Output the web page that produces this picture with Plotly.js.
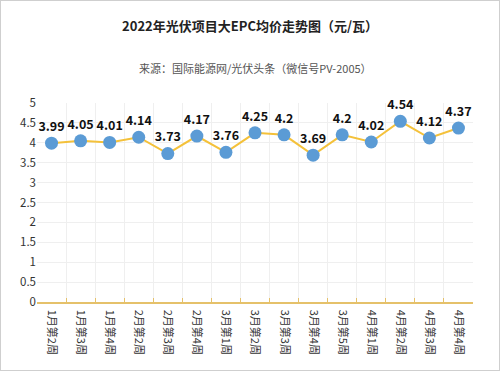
<!DOCTYPE html>
<html>
<head>
<meta charset="utf-8">
<script src="https://cdn.plot.ly/plotly-3.0.1.min.js"></script>
<style>
html,body{margin:0;padding:0;background:#fff;}
#wrap{position:relative;width:500px;height:371px;}
#chart{width:500px;height:371px;}
#frame{position:absolute;left:0;top:0;width:498px;height:369px;border:1px solid #cfcfcf;pointer-events:none;}
</style>
</head>
<body>
<div id="wrap"><div id="chart"></div><div id="frame"></div></div>
<script>
var categories = ["1月第2周","1月第3周","1月第4周","2月第2周","2月第3周","2月第4周","3月第1周","3月第2周","3月第3周","3月第4周","3月第5周","4月第1周","4月第2周","4月第3周","4月第4周"];
var prices = [3.99,4.05,4.01,4.14,3.73,4.17,3.76,4.25,4.2,3.69,4.2,4.02,4.54,4.12,4.37];
var yTicks = [0,0.5,1,1.5,2,2.5,3,3.5,4,4.5,5];
var titleText = "2022年光伏项目大EPC均价走势图（元/瓦）";
var sourceText = "来源：国际能源网/光伏头条（微信号PV-2005）";

var font = "'Noto Sans CJK SC', 'Noto Sans', sans-serif";

var trace = {
  x: categories,
  y: prices,
  type: "scatter",
  mode: "lines+markers+text",
  text: prices.map(String),
  textposition: "top center",
  textfont: {family: font, size: 12.5, color: "#111", weight: "bold"},
  line: {color: "#F4C13A", width: 2},
  marker: {color: "#5B9BD5", size: 13},
  cliponaxis: false,
  hoverinfo: "x+y"
};

var layout = {
  width: 500, height: 371,
  margin: {l: 37, r: 27, t: 103, b: 69},
  paper_bgcolor: "#fff",
  plot_bgcolor: "#fff",
  showlegend: false,
  title: {text: "<b>" + titleText + "</b>", font: {family: font, size: 13, color: "#222"}, x: 0.5, xanchor: "center", y: 0.93, yanchor: "middle", yref: "container"},
  annotations: [{
    text: sourceText, xref: "paper", yref: "paper", x: 0.5, y: 1.176, xanchor: "center", yanchor: "middle",
    showarrow: false, font: {family: font, size: 11, color: "#555"}
  }],
  xaxis: {
    type: "category",
    tickangle: 90,
    tickson: "boundaries",
    ticks: "inside", ticklen: 4, tickcolor: "#E5C16A",
    showline: true, linecolor: "#E5C16A", linewidth: 1.5,
    showgrid: true, gridcolor: "#EFEFEF",
    ticklabelstandoff: 4,
    tickfont: {family: font, size: 11, color: "#333"},
    range: [-0.5, 14.5]
  },
  yaxis: {
    range: [0, 5],
    tickvals: yTicks,
    ticktext: yTicks.map(String),
    showgrid: true, gridcolor: "#EFEFEF",
    zeroline: false, showline: false,
    ticks: "",
    tickfont: {family: font, size: 11.5, color: "#333"}
  }
};

Plotly.newPlot("chart", [trace], layout, {displayModeBar: false, staticPlot: true});
</script>
</body>
</html>
